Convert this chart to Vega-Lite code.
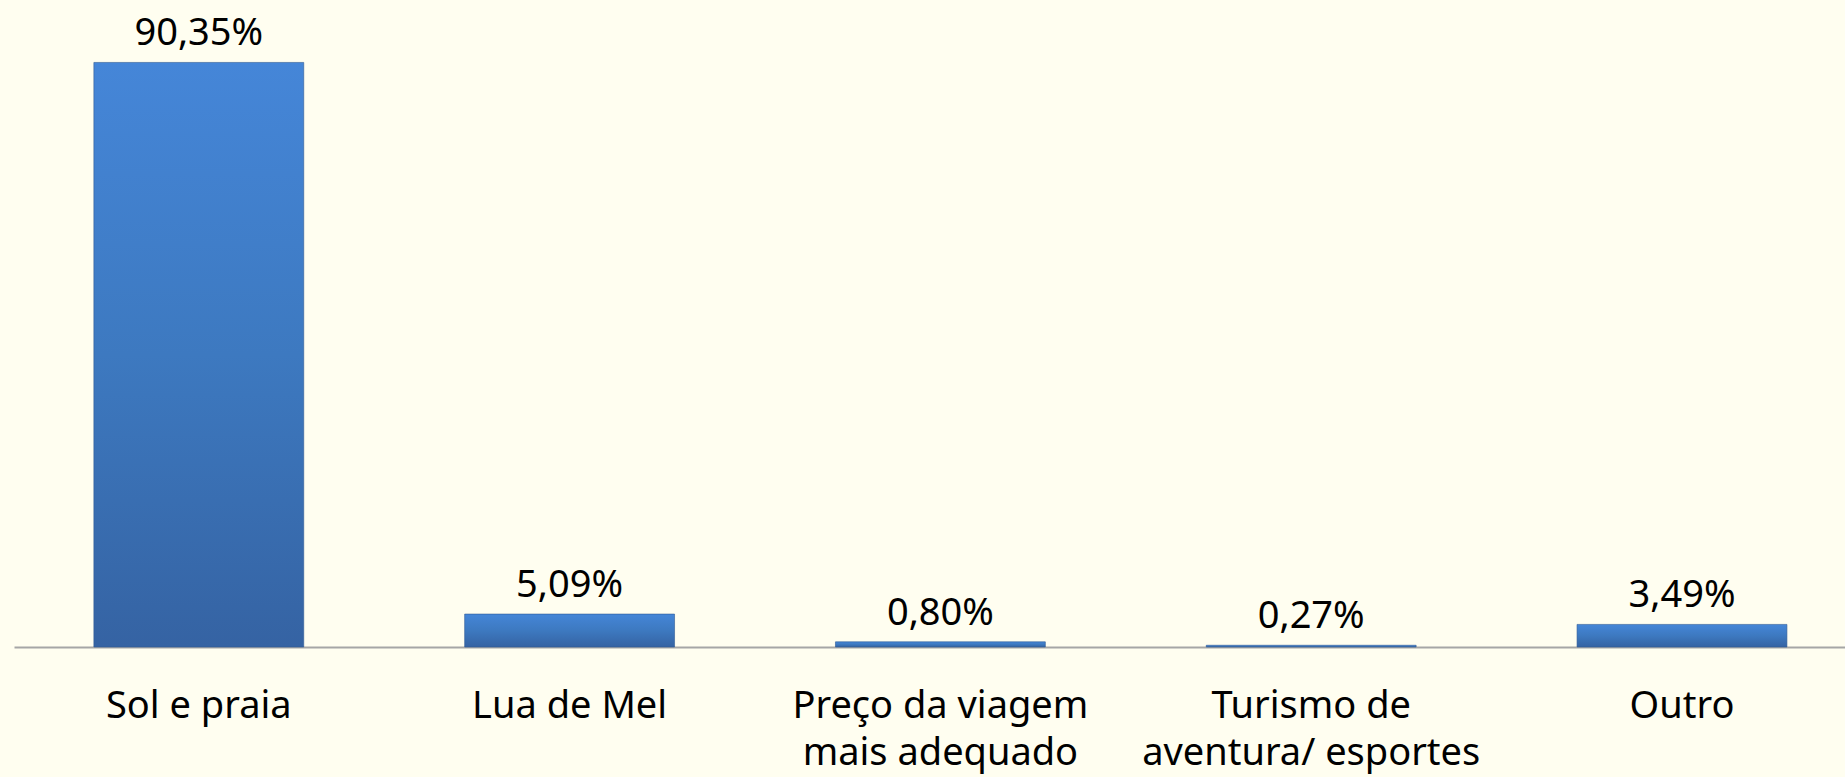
{
  "$schema": "https://vega.github.io/schema/vega-lite/v6.json",
  "width": 1831,
  "height": 647,
  "padding": {"left": 14, "top": 0, "right": 0, "bottom": 130},
  "autosize": {"type": "none"},
  "background": "#FFFEF0",
  "config": {"view": {"stroke": null}, "font": "Noto Sans"},
  "data": {
    "values": [
      {"categoria": "Sol e praia", "valor": 90.35, "rotulo": "90,35%"},
      {"categoria": "Lua de Mel", "valor": 5.09, "rotulo": "5,09%"},
      {"categoria": "Preço da viagem|mais adequado", "valor": 0.80, "rotulo": "0,80%"},
      {"categoria": "Turismo de|aventura/ esportes", "valor": 0.27, "rotulo": "0,27%"},
      {"categoria": "Outro", "valor": 3.49, "rotulo": "3,49%"}
    ]
  },
  "encoding": {
    "x": {
      "field": "categoria",
      "type": "nominal",
      "sort": null,
      "scale": {"paddingInner": 0.434, "paddingOuter": 0.186, "align": 0.579},
      "axis": {
        "title": null,
        "ticks": false,
        "labelAngle": 0,
        "labelFontSize": 38,
        "labelColor": "#000000",
        "labelPadding": 40,
        "labelLineHeight": 47,
        "labelLimit": 0,
        "labelOverlap": false,
        "labelExpr": "split(datum.label, '|')",
        "domainColor": "#A6A6A6",
        "domainWidth": 2,
        "labelFont": "Noto Sans"
      }
    },
    "y": {
      "field": "valor",
      "type": "quantitative",
      "scale": {"domain": [0, 100], "nice": false},
      "axis": null
    }
  },
  "layer": [
    {
      "mark": {
        "type": "bar",
        "color": {
          "gradient": "linear",
          "x1": 0, "y1": 0, "x2": 0, "y2": 1,
          "stops": [
            {"offset": 0, "color": "#4586D8"},
            {"offset": 0.5, "color": "#3D79C0"},
            {"offset": 1, "color": "#3563A3"}
          ]
        },
        "stroke": "#2F5A94",
        "strokeWidth": 1,
        "strokeOpacity": 0.6
      }
    },
    {
      "mark": {
        "type": "text",
        "baseline": "alphabetic",
        "dy": -17,
        "fontSize": 38,
        "color": "#000000",
        "font": "Noto Sans"
      },
      "encoding": {"text": {"field": "rotulo"}}
    }
  ]
}
